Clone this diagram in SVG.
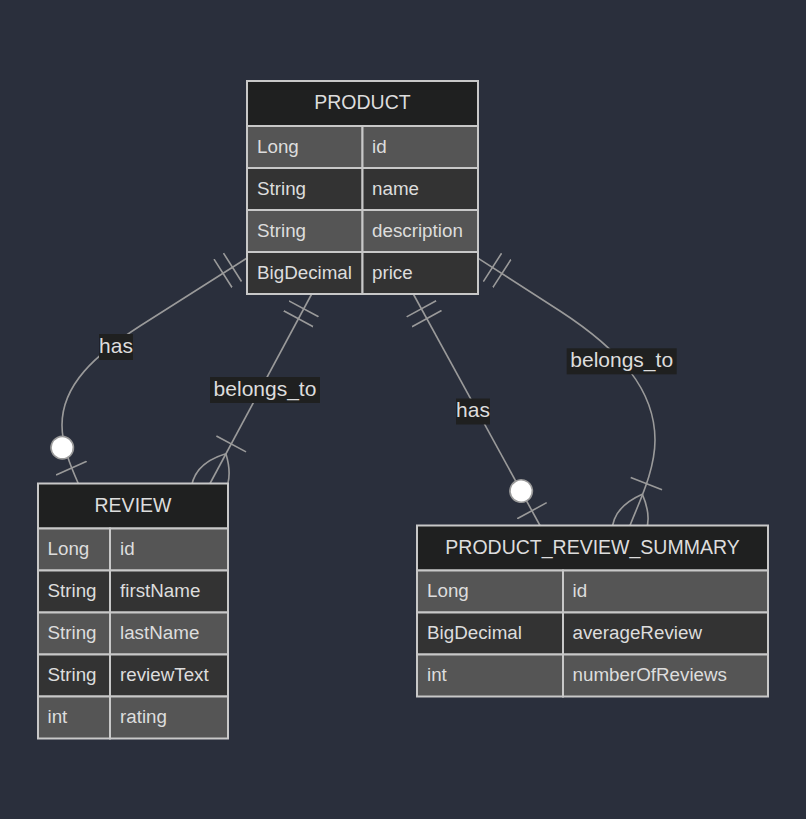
<svg xmlns="http://www.w3.org/2000/svg" width="806" height="819" viewBox="0 0 806 819">
<style>
.bg{fill:#2a2f3c}
.rel{fill:none;stroke:#9a9a9a;stroke-width:1.6}
.mk{fill:none;stroke:#9a9a9a;stroke-width:0.86}
.mkc{fill:#ffffff;stroke:#9a9a9a;stroke-width:0.86}
.hdr{fill:#1f2020;stroke:#c8c8c8;stroke-width:2}
.odd{fill:#555555;stroke:#c8c8c8;stroke-width:2}
.even{fill:#333333;stroke:#c8c8c8;stroke-width:2}
.ht{font-family:"Liberation Sans",Arial,sans-serif;font-size:19.5px;fill:#dddddd;text-anchor:middle}
.at{font-family:"Liberation Sans",Arial,sans-serif;font-size:18.8px;fill:#dddddd}
.lb{fill:#1f2020}
.lt{font-family:"Liberation Sans",Arial,sans-serif;font-size:21px;fill:#dddddd;text-anchor:middle}
</style>
<defs>
<marker id="oneStart" markerUnits="userSpaceOnUse" viewBox="0 0 18 18" markerWidth="33.66" markerHeight="33.66" refX="0" refY="9" orient="auto">
<path class="mk" d="M9,0 L9,18 M15,0 L15,18"/>
</marker>
<marker id="zeroOneEnd" markerUnits="userSpaceOnUse" viewBox="0 0 30 18" markerWidth="56.1" markerHeight="33.66" refX="30" refY="9" orient="auto">
<circle class="mkc" cx="9" cy="9" r="6"/>
<path class="mk" d="M21,0 L21,18"/>
</marker>
<marker id="oneMoreEnd" markerUnits="userSpaceOnUse" viewBox="0 0 45 36" markerWidth="84.15" markerHeight="67.32" refX="27" refY="18" orient="auto">
<path class="mk" d="M3,9 L3,27 M9,18 Q27,0 45,18 Q27,36 9,18"/>
</marker>
</defs>
<rect class="bg" x="0" y="0" width="806" height="819"/>
<g id="connectors">
<path class="rel" d="M246.7,258.3 L140,326 C95,355 62,385 62,425 C62,445 70,465 78.3,483.5" marker-start="url(#oneStart)" marker-end="url(#zeroOneEnd)"/>
<path class="rel" d="M311.7,294 L210,483.5" marker-start="url(#oneStart)" marker-end="url(#oneMoreEnd)"/>
<path class="rel" d="M413.3,294 L540,525.5" marker-start="url(#oneStart)" marker-end="url(#zeroOneEnd)"/>
<path class="rel" d="M478.3,258.3 L560,311 C620,350 655,390 655,440 C655,470 640,500 630,525.5" marker-start="url(#oneStart)" marker-end="url(#oneMoreEnd)"/>
<g id="label-has-review">
<rect class="lb" x="99" y="334" width="34" height="26"/>
<text class="lt" x="116" y="352.5">has</text>
</g>
<g id="label-belongs-review">
<rect class="lb" x="210" y="377" width="110" height="26"/>
<text class="lt" x="265" y="395.5">belongs_to</text>
</g>
<g id="label-has-summary">
<rect class="lb" x="456" y="398.5" width="34" height="26"/>
<text class="lt" x="473" y="417">has</text>
</g>
<g id="label-belongs-summary">
<rect class="lb" x="566.7" y="348.3" width="110" height="26"/>
<text class="lt" x="621.7" y="366.8">belongs_to</text>
</g>
</g>
<g id="PRODUCT">
<rect class="hdr" x="247" y="81" width="231" height="45"/>
<text class="ht" x="362.5" y="109">PRODUCT</text>
<rect class="odd" x="247" y="126" width="115.5" height="42"/>
<rect class="odd" x="362.5" y="126" width="115.5" height="42"/>
<rect class="even" x="247" y="168" width="115.5" height="42"/>
<rect class="even" x="362.5" y="168" width="115.5" height="42"/>
<rect class="odd" x="247" y="210" width="115.5" height="42"/>
<rect class="odd" x="362.5" y="210" width="115.5" height="42"/>
<rect class="even" x="247" y="252" width="115.5" height="42"/>
<rect class="even" x="362.5" y="252" width="115.5" height="42"/>
<text class="at" x="257" y="152.5">Long</text>
<text class="at" x="372" y="152.5">id</text>
<text class="at" x="257" y="194.5">String</text>
<text class="at" x="372" y="194.5">name</text>
<text class="at" x="257" y="236.5">String</text>
<text class="at" x="372" y="236.5">description</text>
<text class="at" x="257" y="278.5">BigDecimal</text>
<text class="at" x="372" y="278.5">price</text>
</g>
<g id="REVIEW">
<rect class="hdr" x="38" y="483.5" width="190" height="45"/>
<text class="ht" x="133" y="511.5">REVIEW</text>
<rect class="odd" x="38" y="528.5" width="72" height="42"/>
<rect class="odd" x="110" y="528.5" width="118" height="42"/>
<rect class="even" x="38" y="570.5" width="72" height="42"/>
<rect class="even" x="110" y="570.5" width="118" height="42"/>
<rect class="odd" x="38" y="612.5" width="72" height="42"/>
<rect class="odd" x="110" y="612.5" width="118" height="42"/>
<rect class="even" x="38" y="654.5" width="72" height="42"/>
<rect class="even" x="110" y="654.5" width="118" height="42"/>
<rect class="odd" x="38" y="696.5" width="72" height="42"/>
<rect class="odd" x="110" y="696.5" width="118" height="42"/>
<text class="at" x="47.5" y="555">Long</text>
<text class="at" x="120" y="555">id</text>
<text class="at" x="47.5" y="597">String</text>
<text class="at" x="120" y="597">firstName</text>
<text class="at" x="47.5" y="639">String</text>
<text class="at" x="120" y="639">lastName</text>
<text class="at" x="47.5" y="681">String</text>
<text class="at" x="120" y="681">reviewText</text>
<text class="at" x="47.5" y="723">int</text>
<text class="at" x="120" y="723">rating</text>
</g>
<g id="PRODUCT_REVIEW_SUMMARY">
<rect class="hdr" x="417" y="525.5" width="351" height="45"/>
<text class="ht" x="592.5" y="553.5">PRODUCT_REVIEW_SUMMARY</text>
<rect class="odd" x="417" y="570.5" width="146" height="42"/>
<rect class="odd" x="563" y="570.5" width="205" height="42"/>
<rect class="even" x="417" y="612.5" width="146" height="42"/>
<rect class="even" x="563" y="612.5" width="205" height="42"/>
<rect class="odd" x="417" y="654.5" width="146" height="42"/>
<rect class="odd" x="563" y="654.5" width="205" height="42"/>
<text class="at" x="427" y="597">Long</text>
<text class="at" x="572.5" y="597">id</text>
<text class="at" x="427" y="639">BigDecimal</text>
<text class="at" x="572.5" y="639">averageReview</text>
<text class="at" x="427" y="681">int</text>
<text class="at" x="572.5" y="681">numberOfReviews</text>
</g>
</svg>
